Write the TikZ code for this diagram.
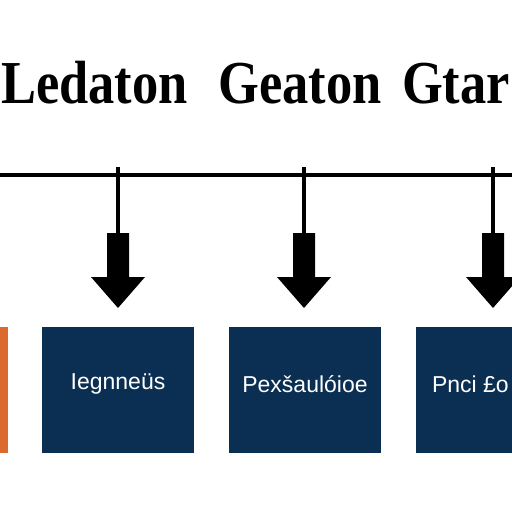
\documentclass[tikz,border=0pt]{standalone}
\usepackage{fontspec}
\setmainfont{Liberation Serif}
\newfontfamily\boxfont{Liberation Sans}
\definecolor{navy}{HTML}{0B2F52}
\definecolor{rust}{HTML}{DC6A2E}
\newcommand{\narrow}[1]{\scalebox{0.86}[1]{#1}}

\begin{document}
\begin{tikzpicture}[
    x=1pt, y=-1pt,
    heading/.style={
        font=\fontsize{61}{61}\selectfont\bfseries,
        inner sep=0pt
    },
    stage/.style={
        fill=navy,
        rectangle,
        minimum width=152pt,
        minimum height=126pt,
        inner sep=0pt
    },
    stagetext/.style={
        font=\boxfont\fontsize{23}{23}\selectfont,
        text=white,
        inner sep=0pt
    },
    bus/.style={line width=3.5pt},
    stem/.style={line width=3.5pt}
]

\useasboundingbox (0,0) rectangle (512,512);

\node[heading, anchor=base west] (ledaton) at (1,103) {\narrow{Ledaton}};
\node[heading, anchor=base] (geaton) at (300,103) {\narrow{Geaton}};
\node[heading, anchor=base east] (gtar) at (510,103) {\narrow{Gtar}};

\coordinate (busL) at (-5,175);
\coordinate (busR) at (517,175);
\draw[bus] (busL) -- (busR);

\foreach \name/\x in {one/118, two/304, three/493} {
    \coordinate (top\name) at (\x,167);
    \coordinate (foot\name) at (\x,235);
    \draw[stem] (top\name) -- (foot\name);
    \fill (\x-11,233) -- (\x+11,233) -- (\x+11,277) -- (\x+27,277)
        -- (\x,308) -- (\x-27,277) -- (\x-11,277) -- cycle;
}

\fill[rust] (-30,327) rectangle (8,453);

\node[stage] (box1) at (118,390) {};
\node[stage] (box2) at (305,390) {};
\node[stage] (box3) at (492,390) {};

\node[stagetext] (text1) at ([yshift=6pt]box1.center) {Iegnneüs};
\node[stagetext] (text2) at ([yshift=6pt]box2.center) {Pexšaulóioe};
\node[stagetext, anchor=west] (text3) at ([xshift=16pt,yshift=6pt]box3.west) {Pnci £o};

\end{tikzpicture}
\end{document}
